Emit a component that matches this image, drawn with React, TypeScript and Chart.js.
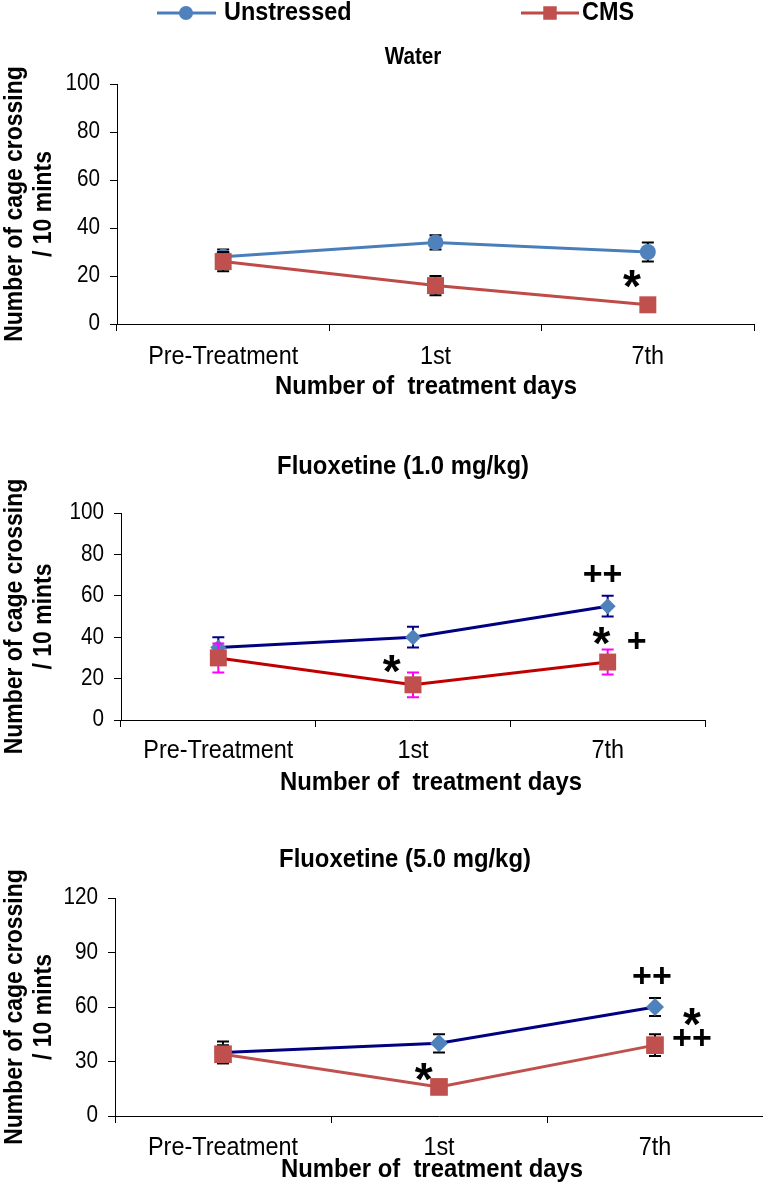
import React, { useEffect, useRef } from 'react';
import { Chart, registerables } from 'chart.js';

Chart.register(...registerables);

if (typeof document !== 'undefined') {
  document.body.style.margin = '0';
  document.body.style.overflow = 'hidden';
}

const FONT = '"Liberation Sans", Arial, Helvetica, sans-serif';
const SX = 0.9; // horizontal squeeze of all chart text (reference font is slightly condensed)
const W = 763;

// ---------- data ----------
const categories = ['Pre-Treatment', '1st', '7th'];
const seriesNames = ['Unstressed', 'CMS'];
const yAxisTitle = ['Number of cage crossing', '/ 10 mints'];
const xAxisTitle = 'Number of  treatment days';

// Water
const waterUnstressed = [28, 34, 30];
const waterUnstressedSem = [3, 3, 4];
const waterCms = [26, 16, 8];
const waterCmsSem = [4, 4, 1];
const waterYTicks = [0, 20, 40, 60, 80, 100];
const waterMarks = [{ label: '*', at: 1.925, value: 19.7 }];

// Fluoxetine 1.0 mg/kg
const flu1Unstressed = [35, 40, 55];
const flu1UnstressedSem = [5, 5, 5];
const flu1Cms = [30, 17, 28];
const flu1CmsSem = [7, 6, 6];
const flu1YTicks = [0, 20, 40, 60, 80, 100];
const flu1Marks = [
  { label: '++', at: 1.974, value: 71 },
  { label: '*', at: 1.968, value: 42 },
  { label: '+', at: 2.149, value: 38.6 },
  { label: '*', at: 0.89, value: 28.2 },
];

// Fluoxetine 5.0 mg/kg
const flu5Unstressed = [35, 40, 60];
const flu5UnstressedSem = [6, 5, 5];
const flu5Cms = [34, 16, 39];
const flu5CmsSem = [5, 1, 6];
const flu5YTicks = [0, 30, 60, 90, 120];
const flu5Marks = [
  { label: '++', at: 1.986, value: 77.3 },
  { label: '*', at: 2.171, value: 55.9 },
  { label: '++', at: 2.171, value: 43.3 },
  { label: '*', at: 0.929, value: 25.8 },
];

// ---------- types ----------
type Mark = { label: string; at: number; value: number };
type Series = {
  name: string;
  values: number[];
  sem: number[];
  line: string;
  marker: string;
  pointStyle: string;
  radius: number;
  errColor: string;
  order: number;
};
type PanelSpec = {
  top: number;
  height: number;
  area: { left: number; right: number; top: number; bottom: number };
  yTicks: number[];
  title: { text: string; x: number; y: number; size: number };
  xTitle: { x: number; y: number };
  tickPad: number;
  series: Series[];
  marks: Mark[];
  legend?: { y: number; items: { x1: number; x2: number; mx: number; tx: number; r: number }[] };
};

const panels: PanelSpec[] = [
  {
    top: 0,
    height: 405,
    area: { left: 117, right: 754, top: 84, bottom: 324 },
    yTicks: waterYTicks,
    title: { text: 'Water', x: 413, y: 58, size: 23 },
    xTitle: { x: 426, y: 387 },
    tickPad: 10,
    series: [
      { name: seriesNames[0], values: waterUnstressed, sem: waterUnstressedSem, line: '#4A7EBB', marker: '#4F81BD', pointStyle: 'circle', radius: 8, errColor: '#000000', order: 1 },
      { name: seriesNames[1], values: waterCms, sem: waterCmsSem, line: '#BE4B48', marker: '#C0504D', pointStyle: 'rect', radius: 12, errColor: '#000000', order: 0 },
    ],
    marks: waterMarks,
    legend: {
      y: 13,
      items: [
        { x1: 157, x2: 216, mx: 186, tx: 224, r: 7 },
        { x1: 521, x2: 579, mx: 550, tx: 582, r: 9 },
      ],
    },
  },
  {
    top: 405,
    height: 395,
    area: { left: 121, right: 705, top: 108, bottom: 315 },
    yTicks: flu1YTicks,
    title: { text: 'Fluoxetine (1.0 mg/kg)', x: 403, y: 62, size: 26.5 },
    xTitle: { x: 431, y: 378 },
    tickPad: 8,
    series: [
      { name: seriesNames[0], values: flu1Unstressed, sem: flu1UnstressedSem, line: '#000080', marker: '#4F81BD', pointStyle: 'rectRot', radius: 8, errColor: '#000080', order: 1 },
      { name: seriesNames[1], values: flu1Cms, sem: flu1CmsSem, line: '#C00000', marker: '#C0504D', pointStyle: 'rect', radius: 12, errColor: '#FF00FF', order: 0 },
    ],
    marks: flu1Marks,
  },
  {
    top: 800,
    height: 395,
    area: { left: 115, right: 763, top: 98, bottom: 316 },
    yTicks: flu5YTicks,
    title: { text: 'Fluoxetine (5.0 mg/kg)', x: 405, y: 60, size: 26.5 },
    xTitle: { x: 432, y: 370 },
    tickPad: 9,
    series: [
      { name: seriesNames[0], values: flu5Unstressed, sem: flu5UnstressedSem, line: '#000080', marker: '#4F81BD', pointStyle: 'rectRot', radius: 9, errColor: '#000000', order: 1 },
      { name: seriesNames[1], values: flu5Cms, sem: flu5CmsSem, line: '#C0504D', marker: '#C0504D', pointStyle: 'rect', radius: 12.5, errColor: '#000000', order: 0 },
    ],
    marks: flu5Marks,
  },
];

// ---------- helpers ----------
function condenseText(ctx: any) {
  if (ctx.__origFillText) return;
  const orig = ctx.fillText.bind(ctx);
  ctx.__origFillText = orig;
  ctx.fillText = (text: string, x: number, y: number, maxWidth?: number) => {
    ctx.save();
    ctx.translate(x, y);
    ctx.scale(SX, 1);
    if (maxWidth !== undefined && maxWidth !== null) orig(text, 0, 0, maxWidth / SX);
    else orig(text, 0, 0);
    ctx.restore();
  };
}

// ---------- plugins ----------
const errorBarPlugin = {
  id: 'errorBars',
  beforeDatasetDraw(chart: any, args: any) {
    const ds = chart.data.datasets[args.index] as any;
    if (!ds.sem) return;
    const yScale = chart.scales.y;
    const ctx = chart.ctx as CanvasRenderingContext2D;
    const cap = 6;
    ctx.save();
    ctx.strokeStyle = ds.errColor;
    ctx.lineWidth = 2;
    args.meta.data.forEach((pt: any, i: number) => {
      const v = ds.data[i];
      const e = ds.sem[i];
      const x = pt.x;
      const yt = yScale.getPixelForValue(v + e);
      const yb = yScale.getPixelForValue(v - e);
      ctx.beginPath();
      ctx.moveTo(x, yt);
      ctx.lineTo(x, yb);
      ctx.moveTo(x - cap, yt);
      ctx.lineTo(x + cap, yt);
      ctx.moveTo(x - cap, yb);
      ctx.lineTo(x + cap, yb);
      ctx.stroke();
    });
    ctx.restore();
  },
};

function marksPlugin(spec: PanelSpec) {
  return {
    id: 'sigMarks',
    afterDatasetsDraw(chart: any) {
      const ctx = chart.ctx as any;
      const fill = ctx.__origFillText || ctx.fillText.bind(ctx);
      const xs = chart.scales.x;
      const ys = chart.scales.y;
      ctx.save();
      ctx.fillStyle = '#000';
      ctx.textAlign = 'center';
      ctx.textBaseline = 'alphabetic';
      spec.marks.forEach((m) => {
        const isStar = m.label.includes('*');
        const size = isStar ? 46 : 34;
        ctx.font = `bold ${size}px ${FONT}`;
        const x = xs.getPixelForValue(m.at);
        const y = ys.getPixelForValue(m.value);
        fill(m.label, x, y + size * (isStar ? 0.56 : 0.35));
      });
      ctx.restore();
    },
  };
}

function textPlugin(spec: PanelSpec) {
  return {
    id: 'panelText',
    afterDraw(chart: any) {
      const ctx = chart.ctx as CanvasRenderingContext2D;
      ctx.save();
      ctx.fillStyle = '#000';
      ctx.textAlign = 'center';
      ctx.textBaseline = 'middle';
      ctx.font = `bold ${spec.title.size}px ${FONT}`;
      ctx.fillText(spec.title.text, spec.title.x, spec.title.y);
      ctx.font = `bold 26.5px ${FONT}`;
      ctx.fillText(xAxisTitle, spec.xTitle.x, spec.xTitle.y);

      if (spec.legend) {
        const lg = spec.legend;
        lg.items.forEach((it, i) => {
          const s = spec.series[i];
          ctx.strokeStyle = s.line;
          ctx.lineWidth = 3;
          ctx.beginPath();
          ctx.moveTo(it.x1, lg.y);
          ctx.lineTo(it.x2, lg.y);
          ctx.stroke();
          ctx.fillStyle = s.marker;
          ctx.beginPath();
          if (s.pointStyle === 'circle') {
            ctx.arc(it.mx, lg.y, it.r, 0, Math.PI * 2);
          } else {
            ctx.rect(it.mx - it.r * 0.75, lg.y - it.r * 0.75, it.r * 1.5, it.r * 1.5);
          }
          ctx.fill();
          ctx.fillStyle = '#000';
          ctx.textAlign = 'left';
          ctx.font = `bold 26px ${FONT}`;
          ctx.fillText(s.name, it.tx, lg.y);
        });
      }
      ctx.restore();
    },
  };
}

// ---------- components ----------
function Panel({ spec }: { spec: PanelSpec }) {
  const ref = useRef<HTMLCanvasElement>(null);
  useEffect(() => {
    const canvas = ref.current;
    if (!canvas) return;
    const ctx2d = canvas.getContext('2d');
    if (ctx2d) condenseText(ctx2d);
    const a = spec.area;
    const yMax = spec.yTicks[spec.yTicks.length - 1];
    const chart = new Chart(canvas, {
      type: 'line',
      data: {
        labels: categories,
        datasets: spec.series.map((s) => ({
          label: s.name,
          data: s.values,
          sem: s.sem,
          errColor: s.errColor,
          borderColor: s.line,
          borderWidth: 3,
          backgroundColor: s.marker,
          pointStyle: s.pointStyle,
          pointRadius: s.radius,
          pointHoverRadius: s.radius,
          pointBackgroundColor: s.marker,
          pointBorderColor: s.marker,
          pointBorderWidth: 0,
          tension: 0,
          fill: false,
          order: s.order,
          clip: false,
        })) as any,
      },
      options: {
        responsive: false,
        maintainAspectRatio: false,
        animation: false,
        events: [],
        layout: { autoPadding: false, padding: { left: 0, top: a.top, right: W - a.right, bottom: 0 } },
        plugins: {
          legend: { display: false },
          tooltip: { enabled: false },
          title: { display: false },
        },
        scales: {
          x: {
            type: 'category',
            offset: true,
            grid: { offset: true, drawOnChartArea: false, drawTicks: true, tickLength: 7, color: '#000', lineWidth: 1 },
            border: { display: true, color: '#000', width: 1 },
            ticks: {
              font: { family: FONT, size: 26 },
              color: '#000',
              padding: spec.tickPad,
              maxRotation: 0,
              minRotation: 0,
              autoSkip: false,
            },
            afterFit: (s: any) => {
              s.height = spec.height - a.bottom;
            },
          },
          y: {
            type: 'linear',
            min: 0,
            max: yMax,
            afterBuildTicks: (s: any) => {
              s.ticks = spec.yTicks.map((v) => ({ value: v }));
            },
            ticks: { font: { family: FONT, size: 23 }, color: '#000', padding: 10 },
            grid: { drawOnChartArea: false, drawTicks: true, tickLength: 7, color: '#000', lineWidth: 1 },
            border: { display: true, color: '#000', width: 1 },
            title: {
              display: true,
              text: yAxisTitle,
              color: '#000',
              font: { family: FONT, size: 25.5, weight: 'bold', lineHeight: 1.14 },
              padding: { top: 0, bottom: 0 },
            },
            afterFit: (s: any) => {
              s.width = a.left;
            },
          },
        },
      } as any,
      plugins: [errorBarPlugin, marksPlugin(spec), textPlugin(spec)] as any,
    });
    return () => chart.destroy();
  }, [spec]);
  return (
    <canvas
      ref={ref}
      width={W}
      height={spec.height}
      style={{ position: 'absolute', left: 0, top: spec.top, width: W, height: spec.height, display: 'block' }}
    />
  );
}

export default function App() {
  return (
    <div style={{ position: 'relative', width: W, height: 1195, background: '#fff', overflow: 'hidden' }}>
      {panels.map((p, i) => (
        <Panel key={i} spec={p} />
      ))}
    </div>
  );
}
